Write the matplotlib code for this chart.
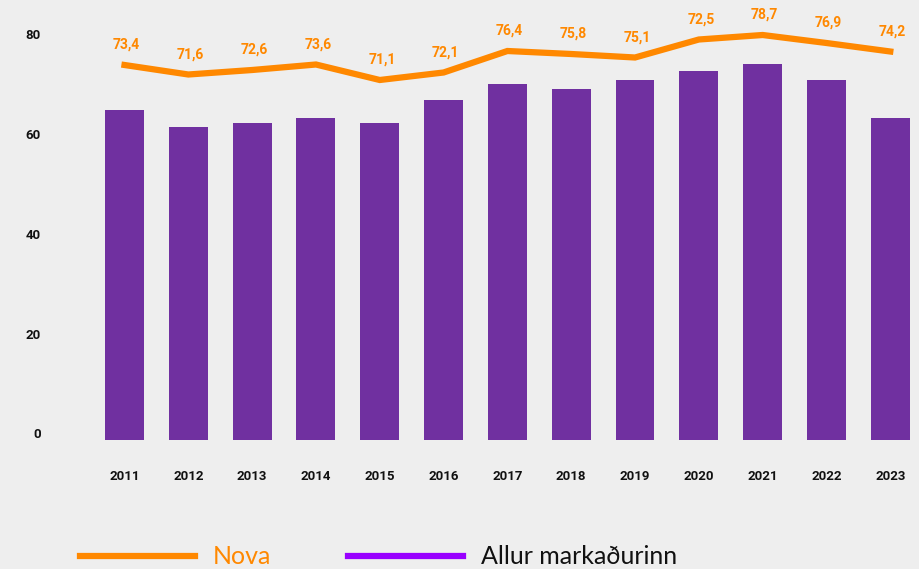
import matplotlib
matplotlib.use("Agg")
import matplotlib.pyplot as plt
from matplotlib.lines import Line2D

years = ["2011", "2012", "2013", "2014", "2015", "2016", "2017", "2018", "2019", "2020", "2021", "2022", "2023"]
market = [66.0, 62.6, 63.4, 64.4, 63.4, 68.0, 71.2, 70.2, 72.0, 73.8, 75.2, 72.0, 64.4]
# Nova line as drawn in the picture
nova = [73.7, 71.8, 72.7, 73.8, 70.7, 72.2, 76.5, 75.9, 75.2, 78.8, 79.7, 78.1, 76.4]
# Nova data labels as printed
nova_labels = ["73,4", "71,6", "72,6", "73,6", "71,1", "72,1", "76,4", "75,8", "75,1", "72,5", "78,7", "76,9", "74,2"]
yticks = [0, 20, 40, 60, 80]
legend_labels = ["Nova", "Allur markaðurinn"]

BG = "#EEEEEE"
ORANGE = "#FF8800"
BAR = "#7030A0"
LEG_PURPLE = "#9900FF"
DARK = "#111111"

fig = plt.figure(figsize=(9.19, 5.69), dpi=100, facecolor=BG)
ax = fig.add_axes([92.6/919, (569-440)/569, (919-92.6)/919, 435/569])
ax.set_facecolor(BG)
x = list(range(len(years)))
ax.bar(x, market, width=0.61, color=BAR, zorder=2)
ax.set_xlim(-0.5, 12.45)
ax.set_ylim(0, 87)
ax.set_yticks([])
ax.set_xticks(x)
ax.set_xticklabels(years, fontfamily="Roboto", fontweight="bold", fontsize=9.5, color=DARK)
ax.tick_params(axis="x", length=0, pad=21.5)
for s in ax.spines.values():
    s.set_visible(False)

ax2 = ax.twinx()
ax2.set_ylim(-1.3, 85.7)
ax2.plot(x, nova, color=ORANGE, lw=4.5, solid_joinstyle="miter", zorder=3)
for xi, v, lab in zip(x, nova, nova_labels):
    ax2.annotate(lab, (xi, v), xytext=(1.5, 14.5), textcoords="offset points",
                 ha="center", va="center", color=ORANGE, fontfamily="Roboto",
                 fontweight="bold", fontsize=10)
ax2.yaxis.tick_left()
ax2.set_yticks(yticks)
ax2.set_yticklabels([str(t) for t in yticks], fontfamily="Roboto", fontweight="bold", fontsize=9.5, color=DARK)
ax2.tick_params(axis="y", length=0, pad=37.5)
for s in ax2.spines.values():
    s.set_visible(False)

handles = [Line2D([], [], color=ORANGE, lw=4.5), Line2D([], [], color=LEG_PURPLE, lw=4.5)]
leg = fig.legend(handles, legend_labels, loc="center left",
                 bbox_to_anchor=(80/919, (569-557)/569), ncol=2, frameon=False,
                 prop={"family": "Lato", "size": 18}, handlelength=4.6,
                 handletextpad=0.72, columnspacing=3.05, borderpad=0, borderaxespad=0)
leg.get_texts()[0].set_color(ORANGE)
leg.get_texts()[1].set_color(DARK)

fig.savefig("out.png", dpi=100, facecolor=BG)
